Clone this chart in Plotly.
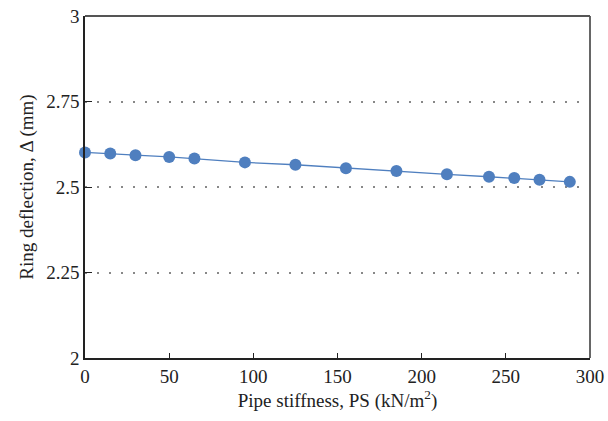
import plotly.graph_objects as go

pipe_stiffness = [0, 15, 30, 50, 65, 95, 125, 155, 185, 215, 240, 255, 270, 288]
ring_deflection = [2.601, 2.598, 2.593, 2.588, 2.583, 2.572, 2.565, 2.555,
                   2.547, 2.537, 2.530, 2.526, 2.521, 2.515]

color = "#4f7fbf"
font = "Liberation Serif"
fs = 19

fig = go.Figure()
fig.add_trace(go.Scatter(
    x=pipe_stiffness, y=ring_deflection, mode="lines+markers",
    line=dict(color=color, width=1.3),
    marker=dict(color=color, size=12),
    cliponaxis=False, showlegend=False,
))

fig.update_layout(
    width=608, height=421,
    margin=dict(l=85, r=18, t=16, b=63, autoexpand=False),
    plot_bgcolor="white", paper_bgcolor="white",
    font=dict(family=font, size=fs, color="#222"),
    xaxis=dict(
        range=[0, 300], dtick=50, tick0=0, automargin=False,
        showline=True, linecolor="#222", linewidth=1.5,
        ticks="inside", ticklen=5, tickcolor="#222",
        showgrid=False, zeroline=False, ticklabeloverflow="allow",
        title=dict(text="Pipe stiffness, PS (kN/m<sup>2</sup>)", standoff=6,
                   font=dict(family=font, size=fs)),
        tickfont=dict(family=font, size=fs),
    ),
    yaxis=dict(
        range=[2, 3], dtick=0.25, tick0=2, automargin=False,
        showline=True, linecolor="#222", linewidth=1.5,
        ticks="inside", ticklen=7, tickcolor="#222",
        showgrid=True, gridcolor="#888", griddash="2px,10px", gridwidth=1.5,
        zeroline=False, ticklabeloverflow="allow",
        title=dict(text="Ring deflection, Δ (mm)", standoff=8,
                   font=dict(family=font, size=fs)),
        tickfont=dict(family=font, size=fs),
    ),
    shapes=[
        dict(type="line", xref="paper", yref="paper", x0=1, x1=1, y0=0, y1=1,
             line=dict(color="#666", width=2)),
        dict(type="line", xref="paper", yref="paper", x0=0, x1=1, y0=1, y1=1,
             line=dict(color="#555", width=2)),
    ],
)

fig.write_html(
    "out.html",
    config={"displayModeBar": False},
    post_script="document.body.style.margin='0';document.documentElement.style.overflow='hidden';",
)
